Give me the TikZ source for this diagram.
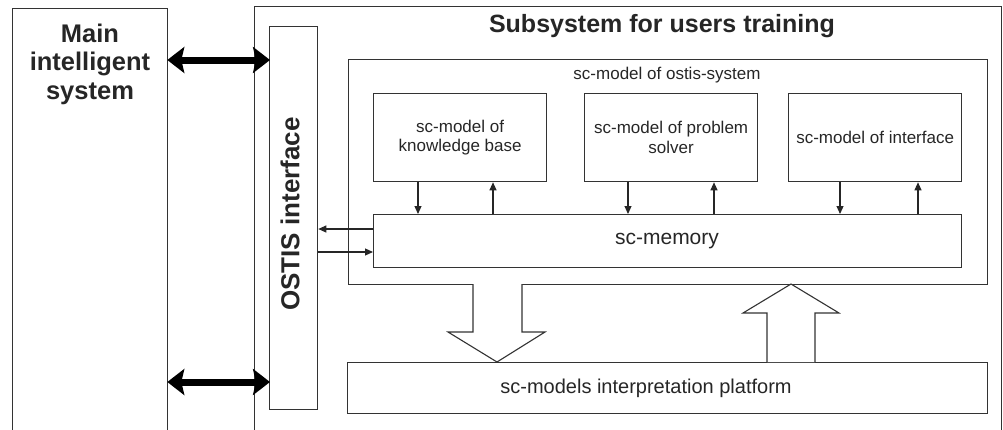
\documentclass[tikz,border=0pt]{standalone}
\usepackage{fontspec}
\setmainfont{Liberation Sans}
\usetikzlibrary{arrows.meta,calc}
\begin{document}
\begin{tikzpicture}[x=1pt,y=-1pt,
  box/.style={draw=black!80, line width=1.3pt, inner sep=0pt, anchor=north west},
  lbl/.style={inner sep=0pt, align=center, text=black!85},
  sarrow/.style={draw=black!85, line width=1.1pt, -{Triangle[length=8pt,width=7pt]}},
  thick arrow/.style={draw=black, line width=7pt,
    {Stealth[length=17pt,width=26pt,inset=3pt]}-{Stealth[length=17pt,width=26pt,inset=3pt]}, shorten <=-1pt, shorten >=-1pt},
  blockarrow/.style={draw=black!80, line width=1.1pt, fill=white, line join=miter}
]
\useasboundingbox (0,0) rectangle (1003,429);
\clip (0,0) rectangle (1003,429);

% outer boxes
\node[box, minimum width=155pt, minimum height=450pt] (main) at (12,8) {};
\node[box, minimum width=747pt, minimum height=450pt] (sub) at (254,6) {};
\node[box, minimum width=48pt, minimum height=383pt] (ostis) at (269,26) {};
\node[box, minimum width=639pt, minimum height=225pt] (sysm) at (348,59) {};
\node[box, minimum width=173pt, minimum height=88pt] (kb) at (373,93) {};
\node[box, minimum width=173pt, minimum height=88pt] (ps) at (584,93) {};
\node[box, minimum width=173pt, minimum height=88pt] (intf) at (788,93) {};
\node[box, minimum width=588pt, minimum height=53pt] (mem) at (373,214) {};
\node[box, minimum width=640pt, minimum height=51pt] (plat) at (347,362) {};

% labels
\node[lbl, font=\bfseries\fontsize{25.5}{28.5}\selectfont] (mainlbl) at (90,64) {Main\\intelligent\\system};
\node[lbl, font=\bfseries\fontsize{25}{30}\selectfont] (sublbl) at (662,26) {Subsystem for users training};
\node[lbl, font=\bfseries\fontsize{26}{30}\selectfont, rotate=90] (ostislbl) at (290,214) {OSTIS interface};
\node[lbl, font=\fontsize{17}{20}\selectfont] (sysmlbl) at (667,75) {sc-model of ostis-system};
\node[lbl, font=\fontsize{17}{19.5}\selectfont] (kblbl) at (kb.center) {sc-model of\\knowledge base};
\node[lbl, font=\fontsize{17}{19.5}\selectfont] (pslbl) at (ps.center) {sc-model of problem\\solver};
\node[lbl, font=\fontsize{17}{20}\selectfont] (intflbl) at (intf.center) {sc-model of interface};
\node[lbl, font=\fontsize{21}{24}\selectfont] (memlbl) at (667,241) {sc-memory};
\node[lbl, font=\fontsize{20}{24}\selectfont] (platlbl) at (646,388) {sc-models interpretation platform};

% helper coordinates
\coordinate (c1) at (418,0);
\coordinate (c2) at (493,0);
\coordinate (c3) at (628,0);
\coordinate (c4) at (714,0);
\coordinate (c5) at (840,0);
\coordinate (c6) at (918,0);
\coordinate (r1) at (0,229);
\coordinate (r2) at (0,252);
\coordinate (t1) at (0,60);
\coordinate (t2) at (0,382);

% small arrows between models and memory
\draw[sarrow] (kb.south -| c1) -- (mem.north -| c1);
\draw[sarrow] (mem.north -| c2) -- (kb.south -| c2);
\draw[sarrow] (ps.south -| c3) -- (mem.north -| c3);
\draw[sarrow] (mem.north -| c4) -- (ps.south -| c4);
\draw[sarrow] (intf.south -| c5) -- (mem.north -| c5);
\draw[sarrow] (mem.north -| c6) -- (intf.south -| c6);

% memory <-> OSTIS interface
\draw[sarrow] (mem.west |- r1) -- (ostis.east |- r1);
\draw[sarrow] (ostis.east |- r2) -- (mem.west |- r2);

% thick double arrows
\draw[thick arrow] (main.east |- t1) -- (ostis.west |- t1);
\draw[thick arrow] (main.east |- t2) -- (ostis.west |- t2);

% block arrows
\draw[blockarrow] (473,284) -- (473,332) -- (448,332) -- (497,362) -- (545,332) -- (522,332) -- (522,284);
\draw[blockarrow] (767,362) -- (767,313) -- (743,313) -- (791,284) -- (839,313) -- (815,313) -- (815,362);
\end{tikzpicture}
\end{document}
